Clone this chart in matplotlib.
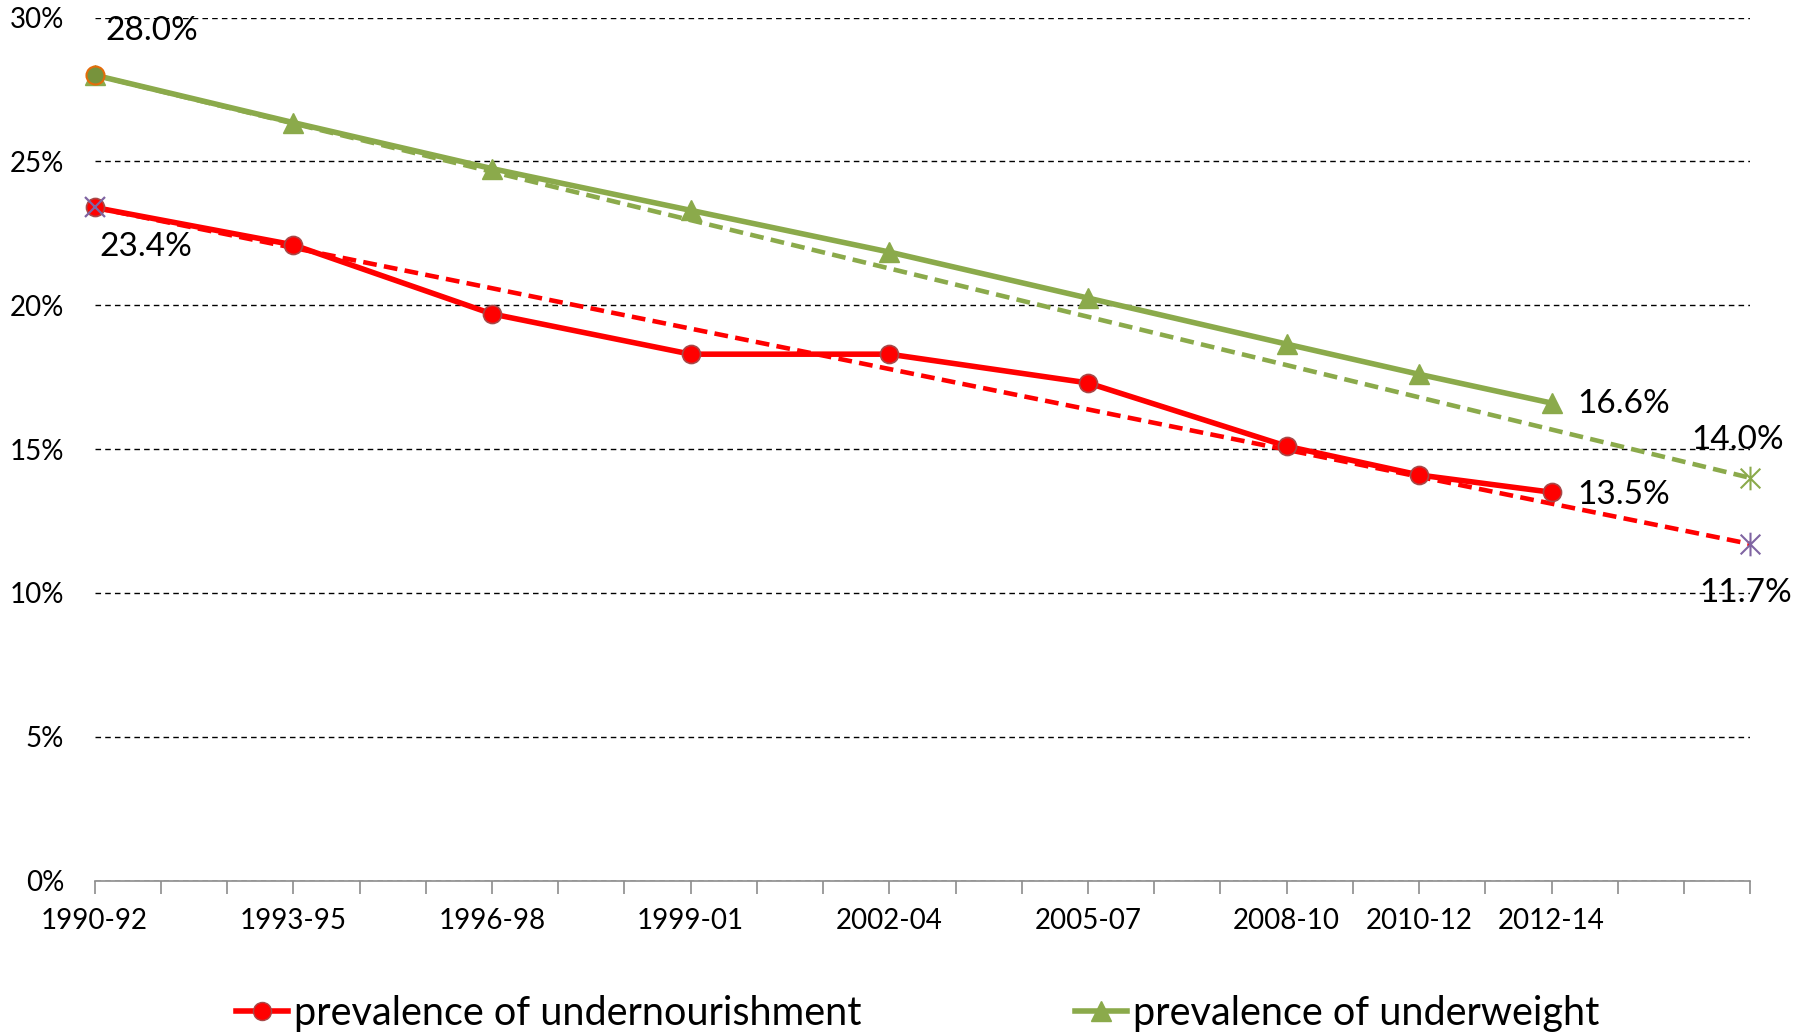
import numpy as np
import matplotlib
matplotlib.use("Agg")
import matplotlib.pyplot as plt  # noqa: E402
from matplotlib.path import Path  # noqa: E402
from matplotlib.lines import Line2D  # noqa: E402

plt.rcParams["font.family"] = ["Lato", "DejaVu Sans"]

periods = ["1990-92", "1993-95", "1996-98", "1999-01", "2002-04",
           "2005-07", "2008-10", "2010-12", "2012-14"]
years = [1990, 1993, 1996, 1999, 2002, 2005, 2008, 2010, 2012]
undernourishment = [23.4, 22.1, 19.7, 18.3, 18.3, 17.3, 15.1, 14.1, 13.5]
underweight = [28.0, 26.35, 24.75, 23.3, 21.85, 20.25, 18.65, 17.6, 16.6]

target_years = [1990, 2015]
target_undernourishment = [23.4, 11.7]
target_underweight = [28.0, 14.0]

RED = "#FF0000"
GREEN = "#8BAA4B"
PURPLE = "#7F64A2"

# excel-style star: an X with a vertical bar
STAR = Path([(-1, -1), (1, 1), (-1, 1), (1, -1), (0, -1.2), (0, 1.2)],
            [Path.MOVETO, Path.LINETO, Path.MOVETO, Path.LINETO,
             Path.MOVETO, Path.LINETO])


def main():
    fig = plt.figure(figsize=(18.1, 10.36), dpi=100)
    ax = fig.add_axes([0.0523, 0.150, 0.9147, 0.833])

    # target (trend) lines
    ax.plot(target_years, target_underweight, color=GREEN, lw=3.3, ls=(0, (3, 1.6)),
            zorder=3)
    ax.plot(target_years, target_undernourishment, color=RED, lw=3.3,
            ls=(0, (3, 1.6)), zorder=3)

    ax.plot(years, undernourishment, color=RED, lw=4, marker="o", ms=13,
            mfc=RED, mec="#A84848", mew=1.2, zorder=4, clip_on=False)
    ax.plot(years, underweight, color=GREEN, lw=4, marker="^", ms=14,
            mfc=GREEN, mec=GREEN, zorder=4, clip_on=False)

    # start / end markers of the target series
    mk = dict(ls="none", zorder=5, clip_on=False)
    ax.plot(target_years[0], target_underweight[0], marker="o", ms=13,
            mfc="#77933C", mec="#E46C0A", mew=1.5, **mk)
    ax.plot(target_years[0], target_undernourishment[0], marker="x", ms=14,
            mec=PURPLE, mew=1.6, **mk)
    ax.plot(target_years[1], target_underweight[1], marker=STAR, ms=17,
            mec=GREEN, mfc="none", mew=1.5, **mk)
    ax.plot(target_years[1], target_undernourishment[1], marker=STAR, ms=17,
            mec=PURPLE, mfc="none", mew=1.5, **mk)

    lab = dict(textcoords="offset pixels", fontsize=24, va="center", ha="left",
               zorder=6)
    ax.annotate(f"{underweight[0]:.1f}%", (years[0], underweight[0]),
                xytext=(11, 44), **lab)
    ax.annotate(f"{undernourishment[0]:.1f}%", (years[0], undernourishment[0]),
                xytext=(5, -40), **lab)
    ax.annotate(f"{underweight[-1]:.1f}%", (years[-1], underweight[-1]),
                xytext=(26, -1), **lab)
    ax.annotate(f"{undernourishment[-1]:.1f}%", (years[-1], undernourishment[-1]),
                xytext=(26, -3), **lab)
    ax.annotate(f"{target_underweight[1]:.1f}%", (target_years[1], target_underweight[1]),
                xytext=(-59, 38), **lab)
    ax.annotate(f"{target_undernourishment[1]:.1f}%",
                (target_years[1], target_undernourishment[1]),
                xytext=(-51, -49), **lab)

    ax.set_xlim(1990, 2015)
    ax.set_ylim(0, 30)
    all_years = np.arange(1990, 2016)
    ax.set_xticks(all_years)
    ax.set_xticklabels([periods[years.index(y)] if y in years else ""
                        for y in all_years], fontsize=20)
    ax.tick_params(axis="x", length=9, width=1.2, color="#8C8C8C", pad=11)
    ax.set_yticks(np.arange(0, 31, 5))
    ax.set_yticklabels([f"{v}%" for v in range(0, 31, 5)], fontsize=20)
    ax.tick_params(axis="y", length=0, pad=22)
    ax.yaxis.grid(True, color="black", ls=(0, (4, 3)), lw=1.0)
    ax.set_axisbelow(True)
    for s in ("top", "right", "left"):
        ax.spines[s].set_visible(False)
    ax.spines["bottom"].set_color("#8C8C8C")
    ax.spines["bottom"].set_linewidth(1.2)

    handles = [
        Line2D([], [], color=RED, lw=4, marker="o", ms=13, mfc=RED, mec="#A84848"),
        Line2D([], [], color=GREEN, lw=4, marker="^", ms=14, mfc=GREEN, mec=GREEN),
    ]
    fig.legend(handles, ["prevalence of undernourishment", "prevalence of underweight"],
               loc="center", bbox_to_anchor=(0.507, 0.022), ncol=2, frameon=False,
               fontsize=28.5, handlelength=1.3, handletextpad=0.15, columnspacing=5.4)

    fig.savefig("out.png", dpi=100)


if __name__ == "__main__":
    main()
